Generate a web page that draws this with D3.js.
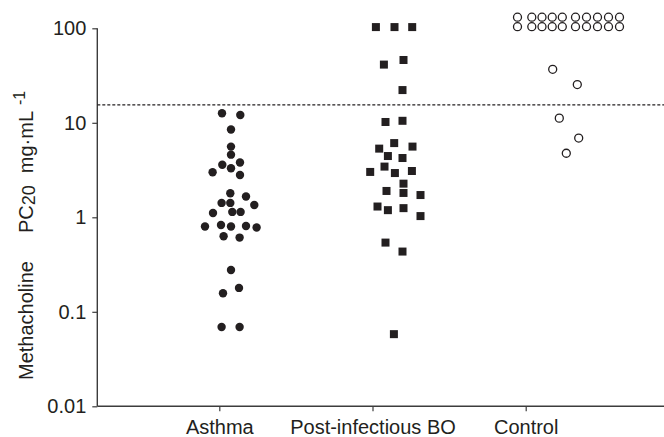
<!DOCTYPE html>
<html>
<head>
<meta charset="utf-8">
<script src="https://cdn.jsdelivr.net/npm/d3@7"></script>
<style>
  body { margin: 0; background: #fff; }
  svg { display: block; font-family: "Liberation Sans", Arial, Helvetica, sans-serif; }
</style>
</head>
<body>
<svg id="chart" width="664" height="437"></svg>
<script>
// groups on the x axis
const groups = ['Asthma', 'Post-infectious BO', 'Control'];

// y ticks (log scale)
const yTicks = [0.01, 0.1, 1, 10, 100];
const yTickLabels = ['0.01', '0.1', '1', '10', '100'];

// cut-off line value
const cutoff = 15.5;

// each point: [PC20 value, horizontal jitter in marker units]
const asthma = [
  [12.6, 0.27], [12.1, 2.1], [8.5, 1.17], [5.6, 1.17], [4.6, 1.17],
  [3.6, 0.3], [3.8, 2.07], [3.0, -0.67], [3.3, 1.17], [2.8, 2.07],
  [1.8, 1.1], [1.66, 2.67], [1.42, 0.23], [1.42, 1.1], [1.35, 3.5],
  [1.11, -0.63], [1.14, 1.3], [1.14, 2.13], [0.80, -1.43], [0.83, 0.17],
  [0.80, 1.17], [0.81, 2.67], [0.78, 3.73], [0.63, 0.43], [0.61, 2.03],
  [0.277, 1.17], [0.179, 1.97], [0.157, 0.37], [0.069, 0.23], [0.069, 2.03]
];

const postBO = [
  [103, 0.34], [103, 2.2], [103, 3.97], [41.3, 1.14], [46.2, 3.1],
  [22.2, 3.0], [10.2, 1.3], [10.5, 3.0], [6.1, 2.17], [5.33, 0.67],
  [5.6, 4.0], [4.45, 1.54], [4.24, 3.0], [3.02, -0.23], [3.44, 1.2],
  [2.94, 2.24], [3.09, 3.94], [2.27, 3.1], [1.90, 1.4], [1.81, 3.1],
  [1.72, 4.8], [1.30, 0.5], [1.19, 1.54], [1.25, 3.1], [1.03, 4.8],
  [0.54, 1.3], [0.434, 3.0], [0.058, 2.14]
];

// control: two stacked rows at the top plus five below
const controlTopX = [-0.82, 0.61, 1.63, 2.65, 3.66, 4.98, 6.08, 7.18, 8.28, 9.38];
const controlRows = [104, 131];
const controlLow = [
  [36.8, 2.7], [25.4, 5.16], [11.2, 3.36], [6.9, 5.3], [4.76, 4.06]
];

const control = controlRows
  .flatMap((v) => controlTopX.map((j) => [v, j]))
  .concat(controlLow);

// ------------------------------------------------------------------
const W = 664, H = 437;
const margin = {left: 97.3, top: 28.3, bottom: 406.3};
const ink = '#231f20';
const axisColor = '#3c3c3c';

const svg = d3.select('#chart');

const y = d3.scaleLog().domain([0.01, 100]).range([margin.bottom, margin.top]);
const x = d3.scalePoint().domain(groups).range([219.3, 525.7]);
const jitter = d3.scaleLinear().domain([0, 1]).range([0, 10]);

// y axis
const yAxis = svg.append('g').attr('transform', `translate(${margin.left},0)`)
  .call(d3.axisLeft(y).tickValues(yTicks).tickFormat((d, i) => yTickLabels[i]).tickSize(5).tickPadding(6));
yAxis.select('.domain').attr('d', `M0,${margin.top}V${margin.bottom}`);

// x axis
const xAxis = svg.append('g').attr('transform', `translate(0,${margin.bottom})`)
  .call(d3.axisBottom(x).tickSize(5).tickPadding(8));
xAxis.select('.domain').attr('d', `M${margin.left},0H${W}`);

svg.selectAll('.domain').attr('stroke', axisColor).attr('stroke-width', 1.4);
svg.selectAll('.tick line').attr('stroke', axisColor).attr('stroke-width', 1.2);
svg.selectAll('.tick text').attr('fill', ink).style('font-size', '20px')
  .style('font-family', '"Liberation Sans", Arial, sans-serif');
xAxis.selectAll('.tick text').attr('dy', null).attr('y', 0)
  .attr('transform', 'translate(0,28)');

// y title
const title = svg.append('text')
  .attr('transform', `translate(33,380) rotate(-90)`)
  .attr('fill', ink)
  .style('font-size', '20px');
title.append('tspan').text('Methacholine');
title.append('tspan').attr('dx', 28).text('PC');
title.append('tspan').attr('dy', 2).style('font-size', '18px').text('20');
title.append('tspan').attr('dx', 12).attr('dy', -2).text('mg\u00b7mL');
title.append('tspan').attr('dx', 6).attr('dy', -8).style('font-size', '16px').text('-1');

// cut-off dotted line
svg.append('line')
  .attr('x1', margin.left).attr('x2', W)
  .attr('y1', y(cutoff)).attr('y2', y(cutoff))
  .attr('stroke', ink).attr('stroke-width', 1.2)
  .attr('stroke-dasharray', '3,2');

const px = (g) => (d) => x(g) + jitter(d[1]);

// asthma - filled circles
svg.append('g').selectAll('circle').data(asthma).join('circle')
  .attr('cx', px('Asthma')).attr('cy', (d) => y(d[0]))
  .attr('r', 4.2).attr('fill', ink);

// post-infectious BO - filled squares
const sq = 8;
svg.append('g').selectAll('rect').data(postBO).join('rect')
  .attr('x', (d) => px('Post-infectious BO')(d) - sq / 2)
  .attr('y', (d) => y(d[0]) - sq / 2)
  .attr('width', sq).attr('height', sq).attr('fill', ink);

// control - open circles
svg.append('g').selectAll('circle').data(control).join('circle')
  .attr('cx', px('Control')).attr('cy', (d) => y(d[0]))
  .attr('r', 4).attr('fill', 'none').attr('stroke', ink).attr('stroke-width', 1.3);
</script>
</body>
</html>
